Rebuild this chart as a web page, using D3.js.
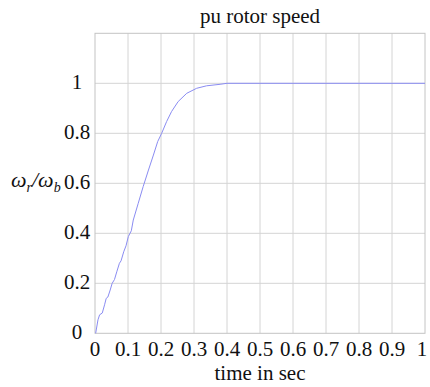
<!DOCTYPE html>
<html>
<head>
<meta charset="utf-8">
<script src="https://cdn.jsdelivr.net/npm/d3@7"></script>
<style>
html,body{margin:0;padding:0;background:#fff;}
svg{display:block;font-family:"Liberation Serif","Times New Roman",serif;}
</style>
</head>
<body>
<svg id="chart" width="430" height="387"></svg>
<script>
const title = "pu rotor speed";
const xLabel = "time in sec";
const xTicks = [0, 0.1, 0.2, 0.3, 0.4, 0.5, 0.6, 0.7, 0.8, 0.9, 1];
const xTickLabels = ["0", "0.1", "0.2", "0.3", "0.4", "0.5", "0.6", "0.7", "0.8", "0.9", "1"];
const yTicks = [0, 0.2, 0.4, 0.6, 0.8, 1];
const yTickLabels = ["0", "0.2", "0.4", "0.6", "0.8", "1"];
const yGrid = [0.2, 0.4, 0.6, 0.8, 1];
const timeSec = [0.002, 0.009, 0.014, 0.022, 0.029, 0.034, 0.039, 0.046, 0.052, 0.059, 0.066, 0.074, 0.079, 0.087, 0.094, 0.101, 0.11, 0.116, 0.131, 0.146, 0.162, 0.177, 0.19, 0.202, 0.217, 0.232, 0.252, 0.278, 0.308, 0.338, 0.379, 0.4, 0.5, 0.6, 0.7, 0.8, 0.9, 1.0];
const rotorSpeed = [0.0, 0.054, 0.074, 0.081, 0.114, 0.14, 0.145, 0.173, 0.2, 0.215, 0.246, 0.28, 0.29, 0.326, 0.35, 0.387, 0.41, 0.453, 0.52, 0.587, 0.653, 0.713, 0.767, 0.8, 0.847, 0.887, 0.927, 0.96, 0.98, 0.99, 0.996, 1.0, 1.0, 1.0, 1.0, 1.0, 1.0, 1.0];

const svg = d3.select("#chart");
const m = {left: 95, right: 5, top: 33.3, bottom: 53.7};
const W = 430, H = 387;
const x = d3.scaleLinear().domain([0, 1]).range([m.left, W - m.right]);
const y = d3.scaleLinear().domain([0, 1.2]).range([H - m.bottom, m.top]);

// grid
svg.append("g").selectAll("line").data(xTicks.slice(1, -1)).join("line")
  .attr("x1", d => x(d)).attr("x2", d => x(d))
  .attr("y1", y(0)).attr("y2", y(1.2))
  .attr("stroke", "#d4d4d4").attr("stroke-width", 1);
svg.append("g").selectAll("line").data(yGrid).join("line")
  .attr("x1", x(0)).attr("x2", x(1))
  .attr("y1", d => y(d)).attr("y2", d => y(d))
  .attr("stroke", "#d4d4d4").attr("stroke-width", 1);

// frame
svg.append("rect").attr("x", x(0)).attr("y", y(1.2))
  .attr("width", x(1) - x(0)).attr("height", y(0) - y(1.2))
  .attr("fill", "none").attr("stroke", "#c4c4c4").attr("stroke-width", 1);

// curve
const line = d3.line().x((d, i) => x(timeSec[i])).y(d => y(d));
svg.append("path").datum(rotorSpeed)
  .attr("d", line).attr("fill", "none")
  .attr("stroke", "#8a8cf2").attr("stroke-width", 1);

// tick labels
svg.append("g").selectAll("text").data(xTicks).join("text")
  .attr("x", (d, i) => x(d) - (i === xTicks.length - 1 ? 3 : 0)).attr("y", 356)
  .attr("text-anchor", "middle").attr("font-size", 21).attr("fill", "#111")
  .text((d, i) => xTickLabels[i]);
svg.append("g").selectAll("text").data(yTicks).join("text")
  .attr("x", 77).attr("y", d => y(d) + 6)
  .attr("text-anchor", "middle").attr("font-size", 21).attr("fill", "#111")
  .text((d, i) => yTickLabels[i]);

// title
svg.append("text").attr("x", x(0.5)).attr("y", 23)
  .attr("text-anchor", "middle").attr("font-size", 21).attr("fill", "#111").text(title);
// x label
svg.append("text").attr("x", x(0.5)).attr("y", 380)
  .attr("text-anchor", "middle").attr("font-size", 21).attr("fill", "#111").text(xLabel);
// y label
const yl = svg.append("text").attr("x", 11).attr("y", 187)
  .attr("font-size", 22).attr("font-style", "italic").attr("fill", "#111");
yl.append("tspan").text("ω");
yl.append("tspan").attr("font-size", 14).attr("dy", 5).text("r");
yl.append("tspan").attr("dy", -5).text("/ω");
yl.append("tspan").attr("font-size", 14).attr("dy", 5).text("b");
</script>
</body>
</html>
